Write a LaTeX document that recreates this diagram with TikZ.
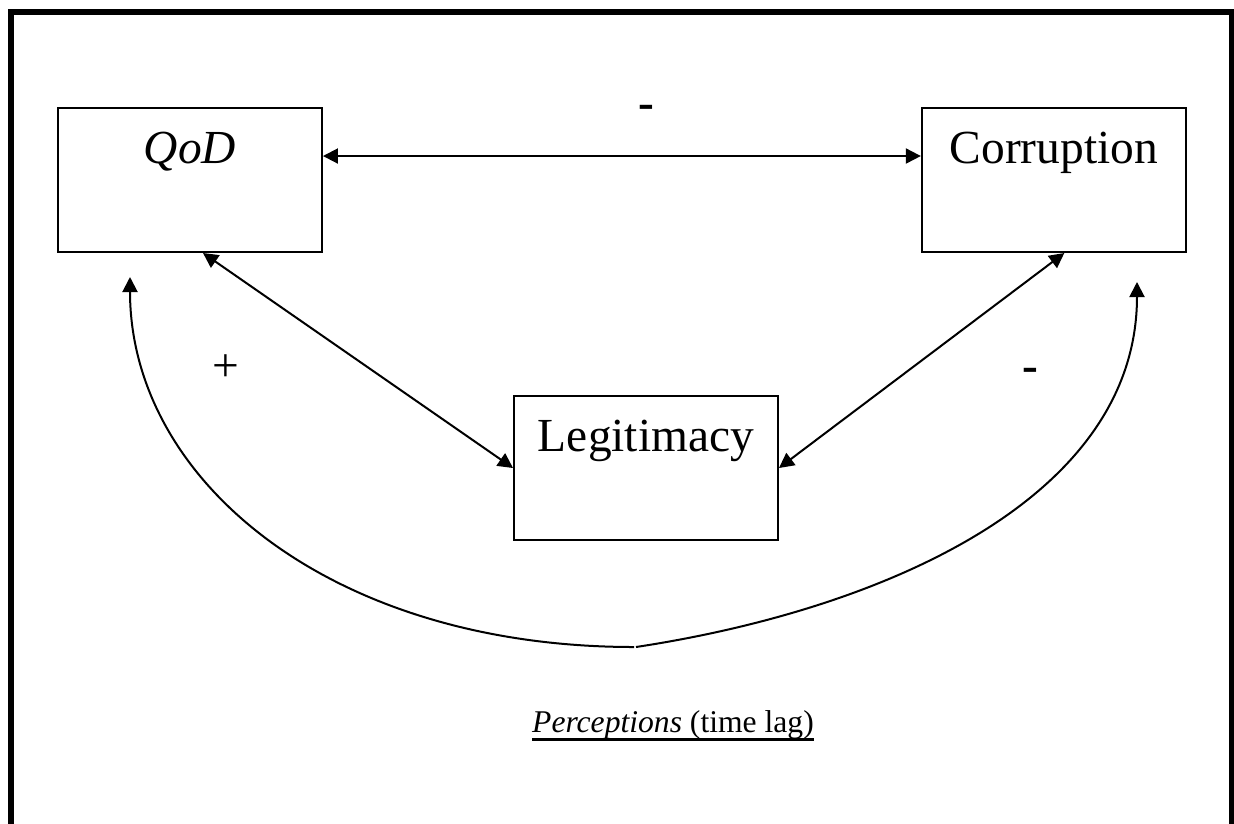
\documentclass[tikz,border=0pt]{standalone}
\usepackage{fontspec}
\setmainfont{Liberation Serif}
\usetikzlibrary{positioning,arrows.meta,calc}

\newcommand{\thickul}[1]{\setbox0\hbox{#1}\rlap{\rule[-0.17cm]{\wd0}{0.06cm}}\box0}

\begin{document}
\begin{tikzpicture}[
    x=0.02cm, y=-0.02cm,
    box/.style={draw, line width=0.04cm, minimum width=5.28cm, inner xsep=0pt, inner ysep=0pt, text height=1.1cm, text depth=1.78cm, font=\fontsize{27}{32}\selectfont},
    sign/.style={anchor=base, font=\fontsize{27}{32}\selectfont},
    arr/.style={{Triangle[length=0.3cm, width=0.3cm]}-{Triangle[length=0.3cm, width=0.3cm]}, line width=0.04cm},
    lag/.style={-{Triangle[length=0.3cm, width=0.3cm]}, line width=0.04cm}]
  \useasboundingbox (0,0) rectangle (1234,823);
  \draw[line width=0.12cm] (11,830) -- (11,12) -- (1232,12) -- (1232,830);
  \node[box] (qod) at (190,180) {\textit{QoD}};
  \node[box, right=11.96cm of qod] (corr) {Corruption};
  \node[box] (legit) at (646,468) {Legitimacy};
  \node[sign] (minustop) at (646,118) {\textbf{-}};
  \node[sign] (plus) at (226,381) {+};
  \node[sign] (minusright) at (1030,381) {\textbf{-}};
  \node[anchor=base, font=\fontsize{18}{22}\selectfont] (perc) at (673,732) {\thickul{\textit{Perceptions} (time lag)}};
  \coordinate (bend) at (634,647);
  \coordinate (qodin) at (130,277);
  \coordinate (corrin) at (1137,282);
  \draw[arr] ([yshift=0.48cm]qod.east) -- ([yshift=0.48cm]corr.west);
  \draw[arr] ([xshift=0.26cm]qod.south) -- (legit.west);
  \draw[arr] ([xshift=0.21cm]corr.south) -- (legit.east);
  \draw[lag] (bend) .. controls (330,647) and (130,480) .. (qodin);
  \draw[lag] ([xshift=0.04cm]bend) .. controls (880,610) and (1137,500) .. (corrin);
\end{tikzpicture}
\end{document}
